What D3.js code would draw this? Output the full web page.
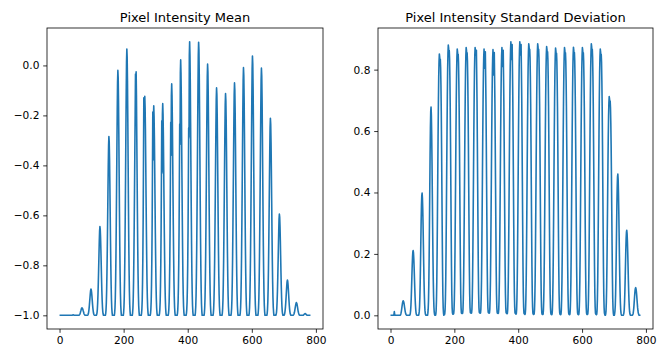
<!DOCTYPE html>
<html>
<head>
<meta charset="utf-8">
<script src="https://cdn.jsdelivr.net/npm/d3@7"></script>
<style>
  body { margin: 0; background: #fff; }
  svg { display: block; }
</style>
</head>
<body>
<div id="graph"></div>
<script>
// 28 rows x 28 columns, flattened to 784 pixel positions
const meanRows = [
  [-1,-1,-1,-1,-1,-1,-1,-1,-1,-1,-1,-1,-1,-1,-1,-1,-1,-1,-1,-1,-1,-1,-1,-1,-1,-1,-1,-1],
  [-1,-1,-1,-1,-1,-1,-1,-1,-1,-1,-1,-1,-0.999,-0.999,-0.998,-0.998,-0.999,-0.999,-1,-1,-1,-1,-1,-1,-1,-1,-1,-1],
  [-1,-1,-1,-1,-1,-0.999,-0.998,-0.996,-0.993,-0.989,-0.984,-0.98,-0.975,-0.971,-0.97,-0.971,-0.974,-0.978,-0.983,-0.987,-0.992,-0.995,-0.997,-0.999,-1,-1,-1,-1],
  [-1,-1,-1,-1,-0.999,-0.997,-0.993,-0.985,-0.975,-0.961,-0.945,-0.929,-0.913,-0.9,-0.895,-0.898,-0.908,-0.922,-0.939,-0.956,-0.971,-0.982,-0.991,-0.996,-0.998,-1,-1,-1],
  [-1,-1,-1,-1,-0.996,-0.989,-0.975,-0.95,-0.915,-0.869,-0.815,-0.759,-0.705,-0.663,-0.645,-0.656,-0.688,-0.737,-0.794,-0.851,-0.901,-0.94,-0.968,-0.986,-0.995,-1,-1,-1],
  [-1,-1,-1,-1,-0.993,-0.979,-0.95,-0.9,-0.828,-0.735,-0.628,-0.514,-0.407,-0.321,-0.285,-0.306,-0.371,-0.471,-0.585,-0.7,-0.8,-0.878,-0.936,-0.971,-0.989,-1,-1,-1],
  [-1,-1,-1,-1,-0.99,-0.971,-0.931,-0.863,-0.765,-0.637,-0.49,-0.334,-0.187,-0.069,-0.02,-0.049,-0.138,-0.275,-0.432,-0.588,-0.726,-0.833,-0.912,-0.961,-0.985,-1,-1,-1],
  [-1,-1,-1,-1,-0.989,-0.968,-0.925,-0.851,-0.744,-0.606,-0.446,-0.275,-0.115,0.013,0.066,0.034,-0.062,-0.211,-0.382,-0.552,-0.702,-0.819,-0.904,-0.957,-0.984,-1,-1,-1],
  [-1,-1,-1,-1,-0.99,-0.971,-0.932,-0.864,-0.766,-0.64,-0.494,-0.338,-0.192,-0.035,-0.05,-0.026,-0.12,-0.28,-0.435,-0.591,-0.727,-0.834,-0.912,-0.961,-0.985,-1,-1,-1],
  [-1,-1,-1,-1,-0.991,-0.974,-0.939,-0.869,-0.765,-0.608,-0.374,-0.13,-0.22,-0.168,-0.124,-0.168,-0.255,-0.387,-0.527,-0.658,-0.772,-0.869,-0.93,-0.969,-0.989,-1,-1,-1],
  [-1,-1,-1,-1,-0.992,-0.976,-0.943,-0.878,-0.78,-0.634,-0.415,-0.187,-0.378,-0.204,-0.162,-0.204,-0.288,-0.413,-0.547,-0.673,-0.782,-0.874,-0.933,-0.971,-0.99,-1,-1,-1],
  [-1,-1,-1,-1,-0.992,-0.977,-0.946,-0.883,-0.79,-0.65,-0.44,-0.222,-0.43,-0.195,-0.153,-0.195,-0.28,-0.407,-0.543,-0.67,-0.78,-0.873,-0.932,-0.97,-0.99,-1,-1,-1],
  [-1,-1,-1,-1,-0.992,-0.977,-0.946,-0.884,-0.792,-0.653,-0.444,-0.228,-0.36,-0.12,-0.074,-0.12,-0.213,-0.352,-0.5,-0.639,-0.759,-0.861,-0.926,-0.968,-0.989,-1,-1,-1],
  [-1,-1,-1,-1,-0.992,-0.977,-0.946,-0.885,-0.793,-0.656,-0.449,-0.235,-0.316,-0.029,0.022,-0.029,-0.131,-0.285,-0.448,-0.601,-0.734,-0.847,-0.918,-0.964,-0.988,-1,-1,-1],
  [-1,-1,-1,-1,-0.992,-0.977,-0.947,-0.887,-0.797,-0.662,-0.46,-0.25,-0.29,0.04,0.095,0.04,-0.068,-0.232,-0.408,-0.572,-0.715,-0.835,-0.912,-0.961,-0.987,-1,-1,-1],
  [-1,-1,-1,-1,-0.989,-0.967,-0.923,-0.846,-0.737,-0.594,-0.43,-0.254,-0.089,0.04,0.093,0.062,-0.037,-0.19,-0.365,-0.54,-0.693,-0.814,-0.901,-0.956,-0.984,-1,-1,-1],
  [-1,-1,-1,-1,-0.99,-0.97,-0.93,-0.859,-0.759,-0.628,-0.477,-0.317,-0.166,-0.045,0.005,-0.025,-0.116,-0.256,-0.417,-0.578,-0.719,-0.829,-0.91,-0.96,-0.985,-1,-1,-1],
  [-1,-1,-1,-1,-0.991,-0.973,-0.936,-0.873,-0.782,-0.663,-0.527,-0.381,-0.245,-0.135,-0.09,-0.117,-0.199,-0.327,-0.472,-0.618,-0.745,-0.845,-0.918,-0.964,-0.986,-1,-1,-1],
  [-1,-1,-1,-1,-0.991,-0.973,-0.938,-0.876,-0.787,-0.672,-0.539,-0.397,-0.264,-0.157,-0.113,-0.14,-0.219,-0.344,-0.486,-0.627,-0.752,-0.849,-0.92,-0.965,-0.987,-1,-1,-1],
  [-1,-1,-1,-1,-0.991,-0.972,-0.935,-0.87,-0.777,-0.656,-0.516,-0.368,-0.228,-0.116,-0.07,-0.098,-0.182,-0.312,-0.461,-0.609,-0.74,-0.842,-0.916,-0.963,-0.986,-1,-1,-1],
  [-1,-1,-1,-1,-0.99,-0.97,-0.931,-0.861,-0.762,-0.633,-0.485,-0.326,-0.177,-0.059,-0.009,-0.039,-0.128,-0.267,-0.425,-0.584,-0.723,-0.832,-0.911,-0.96,-0.985,-1,-1,-1],
  [-1,-1,-1,-1,-0.99,-0.969,-0.927,-0.855,-0.751,-0.616,-0.46,-0.294,-0.138,-0.014,0.038,0.007,-0.087,-0.232,-0.398,-0.564,-0.709,-0.824,-0.907,-0.958,-0.984,-1,-1,-1],
  [-1,-1,-1,-1,-0.99,-0.97,-0.931,-0.862,-0.763,-0.634,-0.486,-0.327,-0.179,-0.06,-0.011,-0.041,-0.13,-0.268,-0.426,-0.585,-0.723,-0.832,-0.911,-0.96,-0.985,-1,-1,-1],
  [-1,-1,-1,-1,-0.992,-0.976,-0.945,-0.89,-0.811,-0.708,-0.59,-0.464,-0.346,-0.251,-0.212,-0.236,-0.307,-0.417,-0.543,-0.669,-0.779,-0.866,-0.929,-0.968,-0.988,-1,-1,-1],
  [-1,-1,-1,-1,-0.996,-0.988,-0.972,-0.943,-0.903,-0.85,-0.789,-0.725,-0.664,-0.615,-0.595,-0.607,-0.644,-0.7,-0.765,-0.83,-0.887,-0.931,-0.964,-0.984,-0.994,-1,-1,-1],
  [-1,-0.999,-0.996,-0.99,-0.98,-0.966,-0.948,-0.927,-0.904,-0.883,-0.866,-0.859,-0.863,-0.876,-0.896,-0.918,-0.941,-0.961,-0.976,-0.987,-0.994,-0.998,-1,-1,-1,-1,-1,-1],
  [-1,-1,-0.998,-0.996,-0.993,-0.988,-0.981,-0.973,-0.965,-0.958,-0.952,-0.949,-0.951,-0.955,-0.962,-0.97,-0.979,-0.986,-0.991,-0.995,-0.998,-0.999,-1,-1,-1,-1,-1,-1],
  [-1,-1,-1,-1,-1,-0.999,-0.998,-0.996,-0.995,-0.994,-0.993,-0.993,-0.994,-0.995,-0.997,-0.998,-0.999,-1,-1,-1,-1,-1,-1,-1,-1,-1,-1,-1]
];

const stdRows = [
  [0,0,0,0,0,0,0,0,0,0,0,0.004,0.012,0.004,0,0,0,0,0,0,0,0,0,0,0,0,0,0],
  [0,0,0,0.001,0.003,0.007,0.013,0.02,0.028,0.036,0.042,0.046,0.047,0.045,0.041,0.035,0.027,0.02,0.013,0.008,0.004,0.002,0.001,0,0,0,0,0],
  [0,0,0,0,0,0.002,0.006,0.015,0.032,0.057,0.091,0.127,0.162,0.19,0.207,0.211,0.203,0.184,0.156,0.122,0.089,0.059,0.036,0.019,0.008,0.003,0.001,0],
  [0,0,0,0,0,0.004,0.012,0.028,0.06,0.107,0.171,0.239,0.306,0.358,0.39,0.398,0.382,0.346,0.295,0.231,0.167,0.111,0.068,0.036,0.016,0.006,0.002,0],
  [0,0,0,0,0,0.007,0.02,0.047,0.102,0.183,0.292,0.407,0.522,0.61,0.664,0.678,0.651,0.59,0.502,0.393,0.285,0.19,0.115,0.061,0.027,0.01,0.003,0],
  [0,0,0.004,0.017,0.051,0.111,0.204,0.323,0.451,0.579,0.689,0.774,0.825,0.851,0.842,0.825,0.834,0.808,0.749,0.664,0.545,0.408,0.272,0.153,0.068,0.026,0.007,0],
  [0.003,0.002,0.006,0.018,0.053,0.114,0.211,0.334,0.466,0.598,0.713,0.801,0.854,0.88,0.871,0.854,0.862,0.836,0.774,0.686,0.563,0.422,0.282,0.158,0.07,0.026,0.008,0.004],
  [0.006,0.004,0.006,0.018,0.052,0.113,0.208,0.329,0.46,0.59,0.702,0.789,0.841,0.867,0.858,0.841,0.85,0.824,0.763,0.676,0.555,0.416,0.277,0.156,0.069,0.026,0.008,0.006],
  [0.008,0.006,0.007,0.018,0.052,0.113,0.209,0.331,0.462,0.593,0.706,0.794,0.846,0.872,0.863,0.846,0.855,0.828,0.767,0.68,0.558,0.419,0.279,0.157,0.07,0.026,0.009,0.008],
  [0.008,0.007,0.008,0.019,0.052,0.113,0.209,0.331,0.462,0.593,0.706,0.794,0.846,0.872,0.86,0.848,0.86,0.863,0.785,0.698,0.567,0.427,0.288,0.157,0.07,0.026,0.01,0.008],
  [0.008,0.007,0.008,0.019,0.052,0.113,0.208,0.329,0.46,0.59,0.702,0.789,0.841,0.867,0.836,0.805,0.836,0.858,0.78,0.694,0.564,0.425,0.286,0.156,0.069,0.026,0.01,0.008],
  [0.008,0.007,0.008,0.019,0.052,0.112,0.208,0.329,0.458,0.588,0.701,0.787,0.839,0.865,0.824,0.783,0.824,0.856,0.779,0.692,0.562,0.424,0.285,0.156,0.069,0.026,0.01,0.007],
  [0.007,0.006,0.007,0.018,0.052,0.113,0.209,0.331,0.462,0.593,0.706,0.794,0.846,0.872,0.841,0.81,0.841,0.863,0.785,0.698,0.567,0.427,0.288,0.157,0.07,0.026,0.009,0.007],
  [0.006,0.005,0.006,0.018,0.053,0.116,0.214,0.339,0.472,0.606,0.722,0.811,0.864,0.891,0.862,0.833,0.862,0.882,0.802,0.713,0.579,0.437,0.294,0.16,0.071,0.027,0.008,0.006],
  [0.005,0.004,0.005,0.018,0.053,0.116,0.214,0.339,0.472,0.606,0.722,0.811,0.864,0.891,0.87,0.848,0.87,0.882,0.802,0.713,0.579,0.437,0.294,0.16,0.071,0.027,0.007,0.005],
  [0.004,0.003,0.005,0.018,0.053,0.115,0.212,0.336,0.469,0.601,0.716,0.804,0.857,0.884,0.875,0.857,0.866,0.84,0.778,0.69,0.566,0.424,0.283,0.159,0.071,0.027,0.007,0.004],
  [0.003,0.003,0.005,0.018,0.053,0.115,0.212,0.336,0.469,0.601,0.716,0.804,0.857,0.884,0.875,0.857,0.866,0.84,0.778,0.69,0.566,0.424,0.283,0.159,0.071,0.027,0.007,0.003],
  [0.003,0.003,0.004,0.018,0.053,0.114,0.21,0.333,0.464,0.595,0.709,0.796,0.849,0.875,0.866,0.849,0.858,0.831,0.77,0.683,0.56,0.42,0.28,0.158,0.07,0.026,0.007,0.003],
  [0.003,0.002,0.004,0.017,0.052,0.113,0.209,0.331,0.461,0.592,0.705,0.792,0.844,0.87,0.861,0.844,0.853,0.827,0.766,0.679,0.557,0.418,0.278,0.157,0.07,0.026,0.007,0.003],
  [0.003,0.002,0.004,0.017,0.052,0.113,0.209,0.331,0.462,0.593,0.706,0.794,0.846,0.872,0.863,0.846,0.855,0.828,0.767,0.68,0.558,0.419,0.279,0.157,0.07,0.026,0.007,0.003],
  [0.003,0.002,0.004,0.017,0.052,0.113,0.21,0.332,0.463,0.594,0.707,0.794,0.847,0.873,0.864,0.847,0.856,0.829,0.768,0.681,0.559,0.419,0.279,0.157,0.07,0.026,0.007,0.003],
  [0.003,0.002,0.004,0.017,0.052,0.113,0.209,0.331,0.462,0.593,0.706,0.794,0.846,0.872,0.863,0.846,0.855,0.828,0.767,0.68,0.558,0.419,0.279,0.157,0.07,0.026,0.007,0.003],
  [0.004,0.003,0.005,0.018,0.053,0.115,0.212,0.336,0.469,0.601,0.716,0.804,0.857,0.884,0.875,0.857,0.866,0.84,0.778,0.69,0.566,0.424,0.283,0.159,0.071,0.027,0.007,0.004],
  [0.003,0.002,0.004,0.017,0.052,0.113,0.208,0.329,0.46,0.59,0.702,0.789,0.841,0.867,0.858,0.841,0.85,0.824,0.763,0.676,0.555,0.416,0.277,0.156,0.069,0.026,0.007,0.003],
  [0,0,0.004,0.014,0.043,0.093,0.171,0.271,0.377,0.484,0.577,0.648,0.691,0.712,0.705,0.691,0.698,0.676,0.627,0.555,0.456,0.342,0.228,0.128,0.057,0.021,0.006,0],
  [0,0,0.005,0.014,0.032,0.069,0.124,0.198,0.276,0.354,0.414,0.451,0.46,0.442,0.4,0.34,0.267,0.193,0.129,0.078,0.041,0.018,0.007,0.002,0,0,0,0],
  [0,0,0.003,0.008,0.019,0.042,0.075,0.119,0.166,0.213,0.249,0.271,0.277,0.266,0.241,0.205,0.161,0.116,0.078,0.047,0.025,0.011,0.004,0.001,0,0,0,0],
  [0,0,0.001,0.003,0.006,0.014,0.024,0.039,0.054,0.069,0.081,0.088,0.09,0.086,0.078,0.067,0.052,0.038,0.025,0.015,0.008,0.004,0.001,0,0,0,0,0]
];

const xTicks = [0, 200, 400, 600, 800];
const meanTicks = [-1.0, -0.8, -0.6, -0.4, -0.2, 0.0];
const stdTicks = [0.0, 0.2, 0.4, 0.6, 0.8];
const titles = ["Pixel Intensity Mean", "Pixel Intensity Standard Deviation"];


const width = 668, height = 351;
const plotTop = 28, plotBottom = 329;
const tickLen = 3.8, tickFont = 10.6, titleFont = 13;

const svg = d3.select("#graph").append("svg")
    .attr("width", width)
    .attr("height", height);

const renderPanel = (values, yTicks, title, left, right) => {
    // matplotlib-style 5% margins on both axes
    const n = values.length;
    const padX = 0.05 * (n - 1);
    const x = d3.scaleLinear().domain([-padX, n - 1 + padX]).range([left, right]);
    const [lo, hi] = d3.extent(values);
    const padY = 0.05 * (hi - lo);
    const y = d3.scaleLinear().domain([lo - padY, hi + padY]).range([plotBottom, plotTop]);

    const g = svg.append("g");

    g.append("path")
        .datum(values)
        .attr("fill", "none")
        .attr("stroke", "#1f77b4")
        .attr("stroke-width", 1.6)
        .attr("stroke-linejoin", "round")
        .attr("d", d3.line().x((d, i) => x(i)).y((d) => y(d)));

    g.append("g")
        .attr("transform", "translate(0," + plotBottom + ")")
        .call(d3.axisBottom(x).tickValues(xTicks).tickSize(tickLen).tickPadding(tickLen).tickFormat(d3.format("d")));

    g.append("g")
        .attr("transform", "translate(" + left + ",0)")
        .call(d3.axisLeft(y).tickValues(yTicks).tickSize(tickLen).tickPadding(tickLen).tickFormat(d3.format(".1f")));

    g.selectAll(".domain").remove();
    g.selectAll(".tick line").attr("stroke", "#000").attr("stroke-width", 0.8);
    g.selectAll(".tick text")
        .attr("fill", "#000")
        .attr("font-size", tickFont)
        .attr("font-family", "DejaVu Sans");

    g.append("rect")
        .attr("x", left).attr("y", plotTop)
        .attr("width", right - left).attr("height", plotBottom - plotTop)
        .attr("fill", "none")
        .attr("stroke", "#000")
        .attr("stroke-width", 0.8);

    g.append("text")
        .attr("x", (left + right) / 2)
        .attr("y", plotTop - 6.5)
        .attr("text-anchor", "middle")
        .attr("font-family", "DejaVu Sans")
        .attr("font-size", titleFont)
        .attr("fill", "#000")
        .text(title);
};

renderPanel(meanRows.flat(), meanTicks, titles[0], 47, 323);
renderPanel(stdRows.flat(), stdTicks, titles[1], 378, 653);
</script>
</body>
</html>
